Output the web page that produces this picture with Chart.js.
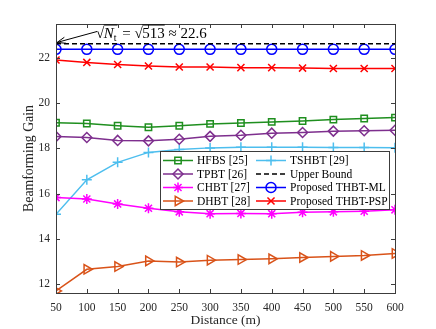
<!DOCTYPE html>
<html>
<head>
<meta charset="utf-8">
<script src="https://cdn.jsdelivr.net/npm/chart.js@4/dist/chart.umd.min.js"></script>
<style>
  html, body { margin: 0; padding: 0; background: #fff; }
</style>
</head>
<body>
<canvas id="gain" width="436" height="329"></canvas>
<script>
const distances = [50, 100, 150, 200, 250, 300, 350, 400, 450, 500, 550, 600];
const xTicks = [50, 100, 150, 200, 250, 300, 350, 400, 450, 500, 550, 600];
const yTicks = [12, 14, 16, 18, 20, 22];

const hfbs  = [19.13, 19.10, 19.00, 18.93, 19.00, 19.08, 19.12, 19.17, 19.21, 19.27, 19.32, 19.36];
const tpbt  = [18.52, 18.48, 18.35, 18.33, 18.40, 18.53, 18.58, 18.67, 18.70, 18.76, 18.78, 18.80];
const chbt  = [15.82, 15.76, 15.54, 15.35, 15.19, 15.11, 15.12, 15.11, 15.17, 15.19, 15.22, 15.28];
const dhbt  = [11.69, 12.65, 12.77, 13.02, 12.97, 13.05, 13.08, 13.11, 13.17, 13.22, 13.26, 13.35];
const tshbt = [15.08, 16.61, 17.38, 17.82, 17.95, 18.02, 18.05, 18.05, 18.05, 18.04, 18.04, 18.03];
const upper = [22.63, 22.63, 22.63, 22.63, 22.63, 22.63, 22.63, 22.63, 22.63, 22.63, 22.63, 22.63];
const thbtMl  = [22.38, 22.38, 22.38, 22.38, 22.38, 22.38, 22.38, 22.38, 22.38, 22.38, 22.38, 22.38];
const thbtPsp = [21.91, 21.80, 21.71, 21.64, 21.60, 21.60, 21.57, 21.57, 21.55, 21.53, 21.53, 21.53];

const serif = "'Liberation Serif', 'Times New Roman', serif";

function series(label, values, color, style, radius, extra) {
  return Object.assign({
    label: label,
    data: distances.map((d, i) => ({ x: d, y: values[i] })),
    borderColor: color,
    backgroundColor: 'rgba(0,0,0,0)',
    borderWidth: 1.5,
    pointStyle: style,
    pointRadius: radius,
    pointBorderWidth: 1.5,
    pointBorderColor: color,
    pointBackgroundColor: 'rgba(0,0,0,0)',
    tension: 0,
  }, extra || {});
}

const datasets = [
  series('HFBS [25]', hfbs, '#1f8f1f', 'rect', 4.5),
  series('TPBT [26]', tpbt, '#7e2f8e', 'rectRot', 5),
  series('CHBT [27]', chbt, '#ff00ff', 'star', 5),
  series('DHBT [28]', dhbt, '#d95319', 'triangle', 5.5, { pointRotation: 90 }),
  series('TSHBT [29]', tshbt, '#4dbeee', 'cross', 5),
  series('Upper Bound', upper, '#000000', false, 0, { borderDash: [5, 3] }),
  series('Proposed THBT-ML', thbtMl, '#0000ff', 'circle', 5),
  series('Proposed THBT-PSP', thbtPsp, '#ff0000', 'crossRot', 5),
];

// box around the plot with inward ticks, like the original figure
const frame = {
  id: 'frame',
  afterDraw(chart) {
    const { ctx, chartArea: a, scales } = chart;
    ctx.save();
    ctx.strokeStyle = '#3c3c3c';
    ctx.lineWidth = 1;
    ctx.strokeRect(Math.round(a.left) + 0.5, Math.round(a.top) + 0.5,
                   Math.round(a.right - a.left), Math.round(a.bottom - a.top));
    ctx.beginPath();
    xTicks.forEach(v => {
      const x = Math.round(scales.x.getPixelForValue(v)) + 0.5;
      ctx.moveTo(x, a.bottom); ctx.lineTo(x, a.bottom - 4);
      ctx.moveTo(x, a.top); ctx.lineTo(x, a.top + 4);
    });
    yTicks.forEach(v => {
      const y = Math.round(scales.y.getPixelForValue(v)) + 0.5;
      ctx.moveTo(a.left, y); ctx.lineTo(a.left + 4, y);
      ctx.moveTo(a.right, y); ctx.lineTo(a.right - 4, y);
    });
    ctx.stroke();
    ctx.restore();
  }
};

// legend boxed inside the plot, two columns
const boxLegend = {
  id: 'boxLegend',
  afterDraw(chart) {
    const ctx = chart.ctx;
    const bx = 160, by = 151, bw = 229, bh = 58;
    ctx.save();
    ctx.fillStyle = '#fff';
    ctx.fillRect(bx, by, bw, bh);
    ctx.strokeStyle = '#3c3c3c';
    ctx.lineWidth = 1;
    ctx.strokeRect(bx + 0.5, by + 0.5, bw, bh);
    ctx.font = '11.5px ' + serif;
    ctx.textBaseline = 'middle';
    ctx.textAlign = 'left';
    chart.data.datasets.forEach((ds, i) => {
      const col = Math.floor(i / 4), row = i % 4;
      const x0 = col === 0 ? 163 : 256;
      const y = 160.5 + row * 13.5;
      ctx.strokeStyle = ds.borderColor;
      ctx.lineWidth = 1.5;
      ctx.setLineDash(ds.borderDash || []);
      ctx.beginPath();
      ctx.moveTo(x0, y); ctx.lineTo(x0 + 30, y);
      ctx.stroke();
      ctx.setLineDash([]);
      if (ds.pointStyle) {
        ctx.fillStyle = 'rgba(0,0,0,0)';
        Chart.helpers.drawPoint(ctx, {
          pointStyle: ds.pointStyle,
          rotation: ds.pointRotation || 0,
          radius: ds.pointRadius,
          borderWidth: 1.5,
        }, x0 + 15, y);
      }
      ctx.fillStyle = '#000';
      ctx.fillText(ds.label, x0 + 34, y + 0.5);
    });
    ctx.restore();
  }
};

// sqrt(N_t) = sqrt(513) ~ 22.6 with arrow to the bound
const boundNote = {
  id: 'boundNote',
  afterDraw(chart) {
    const ctx = chart.ctx;
    ctx.save();
    ctx.strokeStyle = '#000';
    ctx.fillStyle = '#000';
    ctx.lineWidth = 1;
    const tx = 57, ty = 42.5, fx = 97, fy = 31.5;
    ctx.beginPath();
    ctx.moveTo(fx, fy); ctx.lineTo(tx + 2, ty - 0.6);
    ctx.stroke();
    const ang = Math.atan2(ty - fy, tx - fx);
    ctx.beginPath();
    ctx.moveTo(tx, ty);
    ctx.lineTo(tx - 9 * Math.cos(ang - 0.35), ty - 9 * Math.sin(ang - 0.35));
    ctx.moveTo(tx, ty);
    ctx.lineTo(tx - 9 * Math.cos(ang + 0.35), ty - 9 * Math.sin(ang + 0.35));
    ctx.stroke();

    let x = 96, base = 37.5;
    ctx.textBaseline = 'alphabetic';
    ctx.font = '15px ' + serif;
    ctx.fillText('\u221A', x, base);
    x += ctx.measureText('\u221A').width - 0.5;
    ctx.font = 'italic 15px ' + serif;
    const wN = ctx.measureText('N').width;
    ctx.fillText('N', x, base);
    ctx.font = '10px ' + serif;
    ctx.fillText('t', x + wN, base + 3);
    const wT = ctx.measureText('t').width;
    ctx.beginPath();
    ctx.moveTo(x, base - 12.5); ctx.lineTo(x + wN + wT + 1, base - 12.5);
    ctx.stroke();
    x += wN + wT + 2;
    ctx.font = '15px ' + serif;
    ctx.fillText(' = \u221A', x, base);
    x += ctx.measureText(' = \u221A').width - 0.5;
    const w513 = ctx.measureText('513').width;
    ctx.fillText('513', x, base);
    ctx.beginPath();
    ctx.moveTo(x, base - 12.5); ctx.lineTo(x + w513, base - 12.5);
    ctx.stroke();
    x += w513;
    ctx.fillText(' \u2248 22.6', x, base);
    ctx.restore();
  }
};

new Chart(document.getElementById('gain'), {
  type: 'line',
  data: { datasets: datasets },
  options: {
    responsive: false,
    animation: false,
    devicePixelRatio: 1,
    layout: { padding: { top: 24, right: 41, left: 0, bottom: 0 } },
    plugins: {
      legend: { display: false },
      tooltip: { enabled: false },
    },
    scales: {
      x: {
        type: 'linear',
        min: 50,
        max: 600,
        afterFit: s => { s.height = 36; },
        afterBuildTicks: s => { s.ticks = xTicks.map(v => ({ value: v })); },
        grid: { display: false, drawTicks: false },
        border: { display: false },
        ticks: { color: '#262626', padding: 8, maxRotation: 0, font: { family: serif, size: 11.5 } },
        title: {
          display: true, text: 'Distance (m)', color: '#262626',
          padding: { top: 0, bottom: 0 }, font: { family: serif, size: 13.5 }
        },
      },
      y: {
        min: 11.6,
        max: 23.5,
        afterFit: s => { s.width = 56; },
        afterBuildTicks: s => { s.ticks = yTicks.map(v => ({ value: v })); },
        grid: { display: false, drawTicks: false },
        border: { display: false },
        ticks: { color: '#262626', padding: 6, font: { family: serif, size: 11.5 } },
        title: {
          display: true, text: 'Beamforming Gain', color: '#262626',
          padding: { top: 21, bottom: 0 }, font: { family: serif, size: 13.8 }
        },
      },
    },
  },
  plugins: [frame, boxLegend, boundNote],
});
</script>
</body>
</html>
